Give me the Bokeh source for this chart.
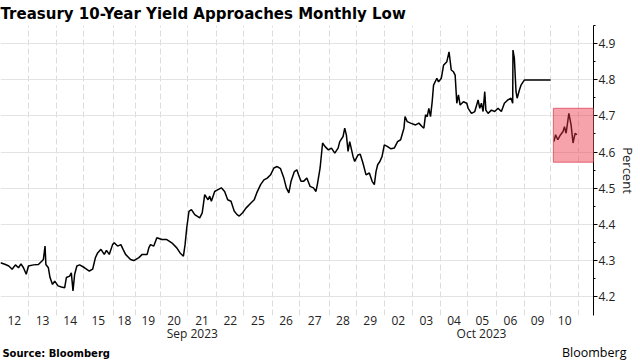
from bokeh.plotting import figure
from bokeh.models import LinearAxis, FixedTicker, Range1d, BoxAnnotation
from bokeh.core.properties import value
from bokeh.embed import file_html
from bokeh.resources import INLINE

# ---------------- data ----------------
TITLE = "Treasury 10-Year Yield Approaches Monthly Low"
SOURCE = "Source: Bloomberg"
BRAND = "Bloomberg"
Y_LABEL = "Percent"

day_labels = ["12", "13", "14", "15", "18", "19", "20", "21", "22", "25", "26",
              "27", "28", "29", "02", "03", "04", "05", "06", "09", "10"]
day_month = ["Sep 2023"] * 14 + ["Oct 2023"] * 7
month_labels = ["Sep 2023", "Oct 2023"]

# trading-session boundaries (in session units)
session_edges = [0.0, 1.0, 2.04, 3.0, 4.07, 4.89, 5.79, 6.75, 7.82, 8.79, 9.82,
                 10.82, 11.89, 12.86, 13.86, 14.89, 15.89, 16.89, 17.93, 18.93,
                 19.89, 20.89]

y_ticks = [4.2, 4.3, 4.4, 4.5, 4.6, 4.7, 4.8, 4.9]

# intraday 10-year yield, Sep 12 - Oct 9 (session units, percent)
yield_x = [0.00, 0.18, 0.30, 0.42, 0.54, 0.65, 0.74, 0.83, 0.93, 1.01, 1.19, 1.37,
           1.49, 1.55, 1.61, 1.64, 1.73, 1.79, 1.88, 1.96, 2.08, 2.20, 2.32, 2.38,
           2.50, 2.56, 2.62, 2.68, 2.76, 2.86, 3.04, 3.21, 3.33, 3.43, 3.51, 3.63,
           3.75, 3.83, 3.93, 4.05, 4.11, 4.23, 4.35, 4.43, 4.52, 4.70, 4.82, 5.00,
           5.12, 5.30, 5.36, 5.42, 5.54, 5.65, 5.83, 6.01, 6.19, 6.37, 6.49, 6.61,
           6.67, 6.73, 6.81, 6.90, 7.02, 7.20, 7.29, 7.38, 7.50, 7.56, 7.62, 7.74,
           7.86, 7.98, 8.10, 8.21, 8.33, 8.45, 8.55, 8.63, 8.75, 8.87, 9.05, 9.17,
           9.26, 9.40, 9.52, 9.64, 9.76, 9.88, 10.00, 10.12, 10.24, 10.33, 10.42,
           10.50, 10.62, 10.71, 10.77, 10.86, 10.95, 11.07, 11.19, 11.31, 11.40,
           11.45, 11.55, 11.64, 11.73, 11.85, 11.96, 12.08, 12.20, 12.26, 12.38,
           12.44, 12.50, 12.56, 12.62, 12.74, 12.80, 12.92, 13.00, 13.10, 13.21,
           13.33, 13.43, 13.51, 13.57, 13.63, 13.71, 13.79, 13.87, 13.99, 14.11,
           14.23, 14.35, 14.46, 14.58, 14.62, 14.70, 14.82, 15.00, 15.12, 15.24,
           15.30, 15.36, 15.42, 15.48, 15.54, 15.60, 15.65, 15.77, 15.83, 15.93,
           16.01, 16.13, 16.21, 16.29, 16.37, 16.43, 16.49, 16.55, 16.61, 16.73,
           16.85, 16.90, 17.02, 17.14, 17.26, 17.32, 17.38, 17.44, 17.50, 17.54,
           17.62, 17.74, 17.86, 17.98, 18.10, 18.21, 18.33, 18.45, 18.51, 18.52,
           18.57, 18.63, 18.67, 18.75, 18.81, 18.93, 19.05, 19.88]
yield_y = [4.294, 4.289, 4.285, 4.276, 4.288, 4.280, 4.291, 4.280, 4.262, 4.285,
           4.288, 4.289, 4.298, 4.303, 4.340, 4.289, 4.280, 4.253, 4.234, 4.243,
           4.230, 4.227, 4.225, 4.253, 4.257, 4.266, 4.216, 4.262, 4.285, 4.288,
           4.280, 4.271, 4.276, 4.308, 4.321, 4.331, 4.317, 4.328, 4.317, 4.344,
           4.349, 4.340, 4.344, 4.331, 4.317, 4.303, 4.300, 4.308, 4.317, 4.317,
           4.335, 4.344, 4.340, 4.363, 4.358, 4.358, 4.349, 4.335, 4.321, 4.312,
           4.344, 4.390, 4.436, 4.441, 4.427, 4.418, 4.432, 4.482, 4.468, 4.478,
           4.464, 4.491, 4.496, 4.501, 4.491, 4.468, 4.464, 4.436, 4.427, 4.423,
           4.432, 4.445, 4.459, 4.468, 4.487, 4.510, 4.523, 4.528, 4.537, 4.556,
           4.560, 4.554, 4.528, 4.501, 4.487, 4.519, 4.546, 4.551, 4.537, 4.519,
           4.519, 4.528, 4.505, 4.501, 4.491, 4.510, 4.556, 4.625, 4.615, 4.606,
           4.611, 4.597, 4.611, 4.629, 4.643, 4.666, 4.647, 4.602, 4.629, 4.588,
           4.574, 4.592, 4.594, 4.569, 4.537, 4.542, 4.519, 4.510, 4.546, 4.565,
           4.574, 4.588, 4.620, 4.615, 4.609, 4.611, 4.629, 4.634, 4.666, 4.698,
           4.684, 4.680, 4.675, 4.680, 4.670, 4.666, 4.703, 4.698, 4.721, 4.698,
           4.739, 4.785, 4.804, 4.794, 4.804, 4.840, 4.850, 4.877, 4.827, 4.822,
           4.813, 4.735, 4.758, 4.730, 4.739, 4.735, 4.721, 4.707, 4.712, 4.744,
           4.721, 4.735, 4.712, 4.767, 4.716, 4.707, 4.716, 4.712, 4.721, 4.712,
           4.735, 4.744, 4.749, 4.735, 4.882, 4.859, 4.767, 4.749, 4.771, 4.785,
           4.799, 4.799, 4.799]

# Oct 10 session (highlighted)
latest_x = [20.00, 20.06, 20.14, 20.24, 20.33, 20.38, 20.44, 20.54, 20.62, 20.69,
            20.74, 20.77, 20.83]
latest_y = [4.629, 4.648, 4.634, 4.648, 4.657, 4.670, 4.652, 4.707, 4.675, 4.625,
            4.643, 4.652, 4.648]

highlight_left = 19.98
highlight_bottom = 4.572
highlight_top = 4.721

X_MAX = 21.43
Y_MIN, Y_MAX = 4.148, 4.95

# ---------------- derived ticks ----------------
day_centers = [round((session_edges[i] + session_edges[i + 1]) / 2, 3)
               for i in range(len(day_labels))]
month_centers = []
for m in month_labels:
    cs = [c for c, mm in zip(day_centers, day_month) if mm == m]
    month_centers.append(round((cs[0] + cs[-1]) / 2, 3))

TICK_FONT = "Open Sans"
TXT = "#222222"

p = figure(width=640, height=344, output_backend="svg", toolbar_location=None,
           x_range=Range1d(0, X_MAX), y_range=Range1d(Y_MIN, Y_MAX),
           y_axis_location="right", x_axis_location="below",
           min_border_left=0, min_border_right=0, min_border_top=0,
           min_border_bottom=0)
p.outline_line_color = None
p.background_fill_color = "white"
p.border_fill_color = "white"

# title
p.title.text = TITLE
p.title.text_font = "DejaVu Sans"
p.title.text_font_style = "bold"
p.title.text_font_size = "15px"
p.title.text_color = "#000000"
p.title.align = "left"
p.title.offset = 0
p.title.standoff = 5

# x axis: day labels
xa = p.xaxis[0]
xa.ticker = FixedTicker(ticks=day_centers)
xa.major_label_overrides = {c: l for c, l in zip(day_centers, day_labels)}
xa.major_tick_line_color = None
xa.major_tick_out = 0
xa.major_tick_in = 0
xa.minor_tick_line_color = None
xa.minor_tick_out = 0
xa.axis_line_color = None
xa.major_label_text_font = TICK_FONT
xa.major_label_text_font_size = "12px"
xa.major_label_text_color = TXT
xa.major_label_standoff = 0

# month axis
ma = LinearAxis(ticker=FixedTicker(ticks=month_centers),
                major_label_overrides={c: l for c, l in zip(month_centers, month_labels)})
ma.major_tick_line_color = None
ma.major_tick_out = 0
ma.major_tick_in = 0
ma.minor_tick_line_color = None
ma.minor_tick_out = 0
ma.axis_line_color = None
ma.major_label_text_font = TICK_FONT
ma.major_label_text_font_size = "12px"
ma.major_label_text_color = TXT
ma.major_label_standoff = -3
p.add_layout(ma, "below")

# y axis (right)
ya = p.yaxis[0]
ya.ticker = FixedTicker(ticks=y_ticks,
                        minor_ticks=[round(t + 0.05, 2) for t in y_ticks])
ya.major_label_overrides = {t: f"{t:.1f}" for t in y_ticks}
ya.axis_line_color = "#000000"
ya.axis_line_width = 1
ya.major_tick_line_color = "#000000"
ya.major_tick_out = 4
ya.major_tick_in = 0
ya.minor_tick_line_color = "#000000"
ya.minor_tick_out = 2
ya.minor_tick_in = 0
ya.major_label_text_font = TICK_FONT
ya.major_label_text_font_size = "12px"
ya.major_label_text_color = TXT
ya.major_label_standoff = 1
ya.axis_label = Y_LABEL
ya.axis_label_text_font = TICK_FONT
ya.axis_label_text_font_size = "13px"
ya.axis_label_text_font_style = "normal"
ya.axis_label_text_color = TXT
ya.axis_label_standoff = 1

# grids
p.xgrid.ticker = FixedTicker(ticks=session_edges)
p.xgrid.grid_line_color = "#dcdcdc"
p.xgrid.grid_line_dash = "6 3"
p.xgrid.grid_line_width = 1
p.ygrid.ticker = FixedTicker(ticks=y_ticks)
p.ygrid.grid_line_color = "#e3e3e3"
p.ygrid.grid_line_width = 1

# data lines
p.line(yield_x, yield_y, line_color="#000000", line_width=1.5)
p.line(latest_x, latest_y, line_color="#000000", line_width=1.5)

# highlight box
p.add_layout(BoxAnnotation(left=highlight_left, bottom=highlight_bottom,
                           top=highlight_top, fill_color="#ee3344",
                           fill_alpha=0.45, line_color="#e05565",
                           line_alpha=0.9, line_width=1))

# footer (separate root so its frame spans the full width)
foot = figure(width=640, height=16, output_backend="svg", toolbar_location=None,
              x_range=Range1d(0, 1), y_range=Range1d(0, 1),
              x_axis_location=None, y_axis_location=None,
              min_border_left=0, min_border_right=0, min_border_top=0,
              min_border_bottom=0)
foot.grid.visible = False
foot.outline_line_color = None
foot.text(x=[0.003], y=[0.45], text=[SOURCE], text_font=value("DejaVu Sans"),
          text_font_style="bold", text_font_size="10px", text_color="#000000",
          text_baseline="middle", text_align="left")
foot.text(x=[0.978], y=[0.5], text=[BRAND], text_font=value("Open Sans"),
          text_font_size="12.5px", text_color="#000000",
          text_baseline="middle", text_align="right")

open("out.html", "w").write(file_html([p, foot], INLINE))
